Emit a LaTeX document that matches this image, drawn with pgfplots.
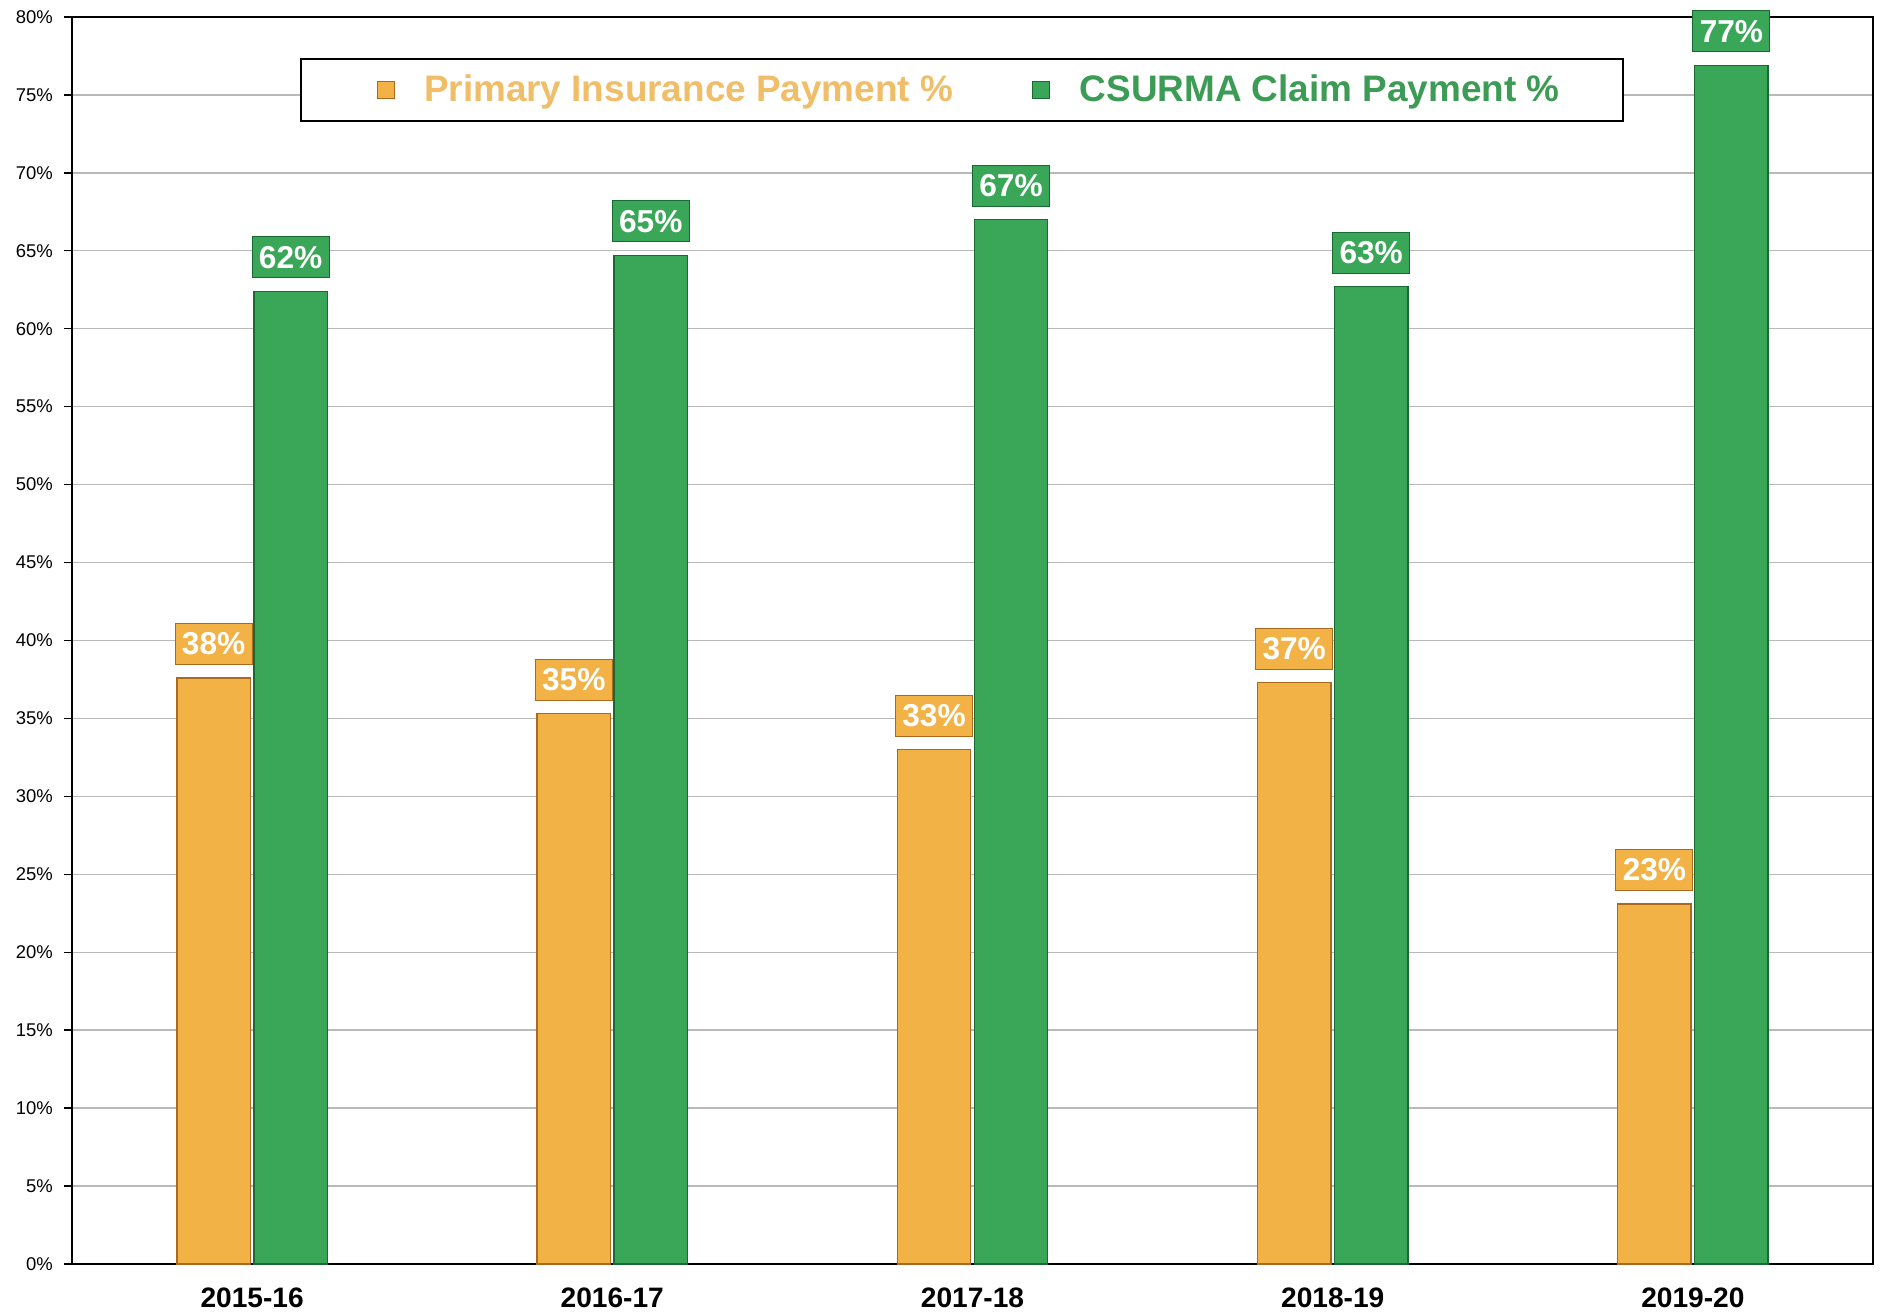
\documentclass[border=0pt]{standalone}
\usepackage{pgfplots}
\pgfplotsset{compat=1.18}
\usepackage{fontspec}
\setmainfont{Liberation Sans}
\definecolor{insorange}{RGB}{243,178,70}
\definecolor{insorangedk}{RGB}{170,105,30}
\definecolor{csgreen}{RGB}{58,166,88}
\definecolor{csgreendk}{RGB}{25,105,50}
\definecolor{legorange}{RGB}{240,190,105}
\definecolor{leggreen}{RGB}{60,155,85}

\begin{document}
\begin{tikzpicture}
\begin{axis}[
  scale only axis, width=36.02cm, height=24.94cm,
  ybar=0.07cm, bar width=1.47cm,
  xmin=-0.5, xmax=4.5, ymin=0, ymax=80,
  xtick={0,...,4}, xticklabels={2015-16,2016-17,2017-18,2018-19,2019-20},
  ytick={0,5,...,80}, ytick pos=left,
  yticklabel={\pgfmathprintnumber{\tick}\%},
  /pgf/number format/assume math mode=true,
  ymajorgrids, grid style={gray!55, line width=0.8pt},
  axis line style={black, line width=1.2pt},
  x tick style={draw=none}, y tick style={black, line width=0.8pt},
  tick align=outside, major tick length=0.16cm,
  yticklabel style={font=\fontsize{10.5}{12}\selectfont, xshift=-0.1cm},
  xticklabel style={font=\fontsize{16}{18}\selectfont\bfseries, yshift=-0.2cm},
  clip=false,
  point meta=explicit symbolic,
  nodes near coords={\pgfplotspointmeta\%},
  every node near coord/.append style={anchor=south, yshift=0.26cm, text=white,
    font=\fontsize{18}{20}\selectfont\bfseries, minimum width=1.54cm,
    minimum height=0.82cm, inner sep=0pt},
  legend style={at={(0.1266,0.967)}, anchor=north west, draw=black, line width=1.2pt,
    legend columns=2, inner xsep=1.2cm, inner ysep=0.25cm,
    font=\fontsize{21}{24}\selectfont\bfseries,
    /tikz/every even column/.append style={column sep=1.2cm}},
  legend image code/.code={\draw[#1, line width=0.6pt] (0cm,-0.17cm) rectangle (0.34cm,0.17cm);
    \path[draw=none, fill=none] (-0.32cm,0) -- (0.87cm,0);},
]
\addplot[fill=insorange, draw=insorangedk, line width=0.8pt,
  every node near coord/.append style={fill=insorange, draw=insorangedk, line width=0.6pt}]
  coordinates {(0,37.6) [38] (1,35.3) [35] (2,33.0) [33] (3,37.3) [37] (4,23.1) [23]};
\addlegendentry{\textcolor{legorange}{Primary Insurance Payment \%}}
\addplot[fill=csgreen, draw=csgreendk, line width=0.8pt,
  every node near coord/.append style={fill=csgreen, draw=csgreendk, line width=0.6pt}]
  coordinates {(0,62.4) [62] (1,64.7) [65] (2,67.0) [67] (3,62.7) [63] (4,76.9) [77]};
\addlegendentry{\textcolor{leggreen}{CSURMA Claim Payment \%}}
\end{axis}
\path ([xshift=-1.44cm,yshift=-0.98cm]current axis.south west) rectangle ([xshift=0.34cm,yshift=0.34cm]current axis.north east);
\end{tikzpicture}
\end{document}
